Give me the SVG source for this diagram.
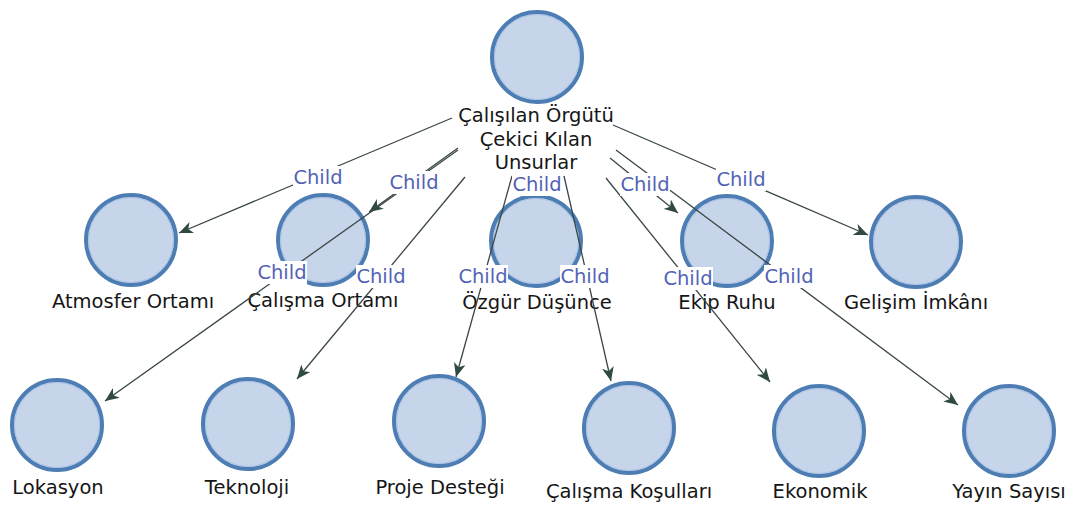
<svg xmlns="http://www.w3.org/2000/svg" width="1075" height="506" viewBox="0 0 1075 506">
<style>
.node circle.o{fill:#c6d5ea;stroke:#4d7db3;stroke-width:4}
.node circle.i{fill:none;stroke:#a9c3e6;stroke-width:1}
.nl{font-family:"DejaVu Sans",Verdana,sans-serif;font-size:19.5px;fill:#151515;text-anchor:middle}
.edge{stroke:#3a4646;stroke-width:1.3;fill:none;marker-end:url(#arr)}
.el rect{fill:#ffffff}
.el text{font-family:"DejaVu Sans",Verdana,sans-serif;font-size:19.5px;fill:#5263b6;text-anchor:middle}
</style>
<defs>
<marker id="arr" markerUnits="userSpaceOnUse" markerWidth="15" markerHeight="12" refX="14" refY="6" orient="auto">
<path d="M0,0 L14,6 L0,12 L4,6 z" fill="#2f4a44"/>
</marker>
</defs>
<rect width="1075" height="506" fill="#ffffff"/>

<g id="n-root" class="node"><circle class="o" cx="537" cy="57" r="45"/><circle class="i" cx="537" cy="57" r="42.5"/>
<text class="nl" x="536" y="122">Çalışılan Örgütü</text><text class="nl" x="536" y="146">Çekici Kılan</text><text class="nl" x="536" y="169">Unsurlar</text></g>

<g id="n-atmosfer" class="node"><circle class="o" cx="131" cy="240" r="45"/><circle class="i" cx="131" cy="240" r="42.5"/><text class="nl" x="133" y="308">Atmosfer Ortamı</text></g>
<g id="n-calisma-ortami" class="node"><circle class="o" cx="323" cy="240" r="45"/><circle class="i" cx="323" cy="240" r="42.5"/><text class="nl" x="323" y="307">Çalışma Ortamı</text></g>
<g id="n-ozgur" class="node"><circle class="o" cx="536" cy="241" r="45"/><circle class="i" cx="536" cy="241" r="42.5"/><text class="nl" x="537" y="309">Özgür Düşünce</text></g>
<g id="n-ekip" class="node"><circle class="o" cx="727" cy="241" r="45"/><circle class="i" cx="727" cy="241" r="42.5"/><text class="nl" x="727" y="309">Ekip Ruhu</text></g>
<g id="n-gelisim" class="node"><circle class="o" cx="916" cy="242" r="45"/><circle class="i" cx="916" cy="242" r="42.5"/><text class="nl" x="916" y="309">Gelişim İmkânı</text></g>

<g id="n-lokasyon" class="node"><circle class="o" cx="57" cy="425" r="45"/><circle class="i" cx="57" cy="425" r="42.5"/><text class="nl" x="58" y="494">Lokasyon</text></g>
<g id="n-teknoloji" class="node"><circle class="o" cx="248" cy="424" r="45"/><circle class="i" cx="248" cy="424" r="42.5"/><text class="nl" x="247" y="494">Teknoloji</text></g>
<g id="n-proje" class="node"><circle class="o" cx="439" cy="421" r="45"/><circle class="i" cx="439" cy="421" r="42.5"/><text class="nl" x="440" y="494">Proje Desteği</text></g>
<g id="n-calisma-kosullari" class="node"><circle class="o" cx="629" cy="428" r="45"/><circle class="i" cx="629" cy="428" r="42.5"/><text class="nl" x="629" y="498">Çalışma Koşulları</text></g>
<g id="n-ekonomik" class="node"><circle class="o" cx="819" cy="431" r="45"/><circle class="i" cx="819" cy="431" r="42.5"/><text class="nl" x="820" y="498">Ekonomik</text></g>
<g id="n-yayin" class="node"><circle class="o" cx="1009" cy="431" r="45"/><circle class="i" cx="1009" cy="431" r="42.5"/><text class="nl" x="1009" y="498">Yayın Sayısı</text></g>

<g id="connectors">
<line class="edge" x1="452" y1="118" x2="179" y2="233"/>
<line class="edge" x1="458" y1="148" x2="369" y2="212"/>
<line class="edge" x1="537" y1="174" x2="537" y2="194"/>
<line class="edge" x1="610" y1="158" x2="678" y2="213"/>
<line class="edge" x1="613" y1="125" x2="868" y2="235"/>
<line class="edge" x1="458" y1="150" x2="105" y2="401"/>
<line class="edge" x1="465" y1="177" x2="297" y2="379"/>
<line class="edge" x1="512" y1="176" x2="456" y2="377"/>
<line class="edge" x1="564" y1="176" x2="611" y2="381"/>
<line class="edge" x1="606" y1="178" x2="770" y2="382"/>
<line class="edge" x1="616" y1="150" x2="958" y2="405"/>
</g>

<g id="edge-labels" class="el">
<rect x="293" y="166" width="50" height="23"/><text x="318" y="184">Child</text>
<rect x="389" y="171" width="50" height="23"/><text x="414" y="189">Child</text>
<rect x="512" y="173" width="50" height="23"/><text x="537" y="191">Child</text>
<rect x="620" y="173" width="50" height="23"/><text x="645" y="191">Child</text>
<rect x="716" y="168" width="50" height="23"/><text x="741" y="186">Child</text>
<rect x="257" y="261" width="50" height="23"/><text x="282" y="279">Child</text>
<rect x="356" y="265" width="50" height="23"/><text x="381" y="283">Child</text>
<rect x="458" y="265" width="50" height="23"/><text x="483" y="283">Child</text>
<rect x="560" y="265" width="50" height="23"/><text x="585" y="283">Child</text>
<rect x="663" y="267" width="50" height="23"/><text x="688" y="285">Child</text>
<rect x="764" y="265" width="50" height="23"/><text x="789" y="283">Child</text>
</g>
</svg>
